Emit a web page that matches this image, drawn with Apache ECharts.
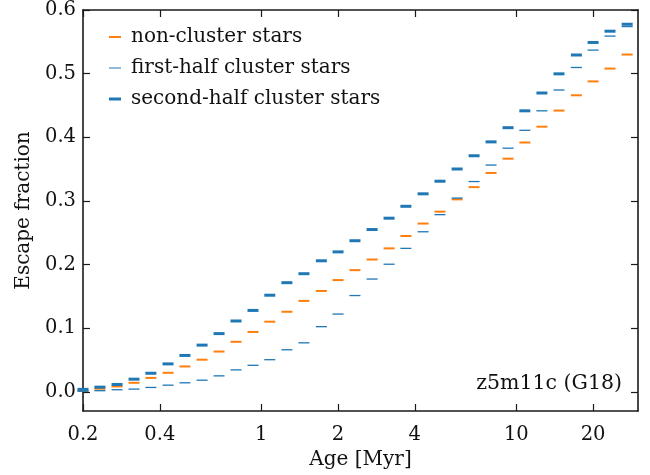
<!DOCTYPE html>
<html>
<head>
<meta charset="utf-8">
<script src="https://cdn.jsdelivr.net/npm/echarts@6/dist/echarts.min.js"></script>
<style>html,body{margin:0;padding:0;background:#fff}#c{width:650px;height:475px}</style>
</head>
<body>
<div id="c"></div>
<script>
// Bin centres (Myr), log-spaced
var ages = [0.200, 0.233, 0.272, 0.317, 0.369, 0.431, 0.502, 0.586, 0.683, 0.796, 0.928,
  1.08, 1.26, 1.47, 1.72, 2.00, 2.33, 2.72, 3.17, 3.69, 4.31, 5.02, 5.86, 6.83, 7.96, 9.28,
  10.8, 12.6, 14.7, 17.2, 20.0, 23.3, 27.2];
var nonCluster = [0.002, 0.005, 0.0086, 0.0143, 0.022, 0.030, 0.040, 0.0506, 0.0634, 0.0787, 0.0942,
  0.1103, 0.1259, 0.143, 0.1586, 0.1757, 0.1913, 0.208, 0.2255, 0.2449, 0.2645, 0.2832, 0.3025,
  0.3217, 0.344, 0.3664, 0.3918, 0.4167, 0.442, 0.466, 0.4878, 0.508, 0.530];
var firstHalf = [0.001, 0.0019, 0.0034, 0.0044, 0.007, 0.0106, 0.0143, 0.0184, 0.0252, 0.0346, 0.0418,
  0.0506, 0.0662, 0.0771, 0.1025, 0.1223, 0.1514, 0.1773, 0.2006, 0.2255, 0.2516, 0.2785, 0.3045,
  0.3305, 0.3564, 0.3829, 0.411, 0.4416, 0.4743, 0.5097, 0.537, 0.559, 0.574];
var secondHalf = [0.004, 0.0075, 0.0117, 0.020, 0.0293, 0.044, 0.0573, 0.0735, 0.0916, 0.1114, 0.128,
  0.1519, 0.1716, 0.1857, 0.206, 0.22, 0.2375, 0.2551, 0.2729, 0.2916, 0.3112, 0.331, 0.3502,
  0.371, 0.3928, 0.4151, 0.4416, 0.4696, 0.4997, 0.5293, 0.549, 0.5667, 0.5776];
var xTicks = [0.2, 0.4, 1, 2, 4, 10, 20];
var xTickLabels = ['0.2', '0.4', '1', '2', '4', '10', '20'];
var yTicks = [0, 0.1, 0.2, 0.3, 0.4, 0.5, 0.6];
var yTickLabels = ['0.0', '0.1', '0.2', '0.3', '0.4', '0.5', '0.6'];
var seriesNames = ['non-cluster stars', 'first-half cluster stars', 'second-half cluster stars'];

function pairs(ys) { return ages.map(function (a, i) { return [a, ys[i]]; }); }
function xLabel(v) {
  var best = 0, bd = Infinity;
  xTicks.forEach(function (t, i) { var d = Math.abs(Math.log(v) - Math.log(t)); if (d < bd) { bd = d; best = i; } });
  return xTickLabels[best];
}
function yLabel(v) {
  var best = 0, bd = Infinity;
  yTicks.forEach(function (t, i) { var d = Math.abs(v - t); if (d < bd) { bd = d; best = i; } });
  return yTickLabels[best];
}
var FONT = 'DejaVu Serif';
var AX = '#1a1a1a';
function legendIcon(h) {
  // 12x9 box with a centred strip of height h
  var y0 = (9 - h) / 2;
  return 'path://M0,0h0.01v0.01h-0.01z M0,' + y0 + 'h12v' + h + 'h-12z M11.99,8.99h0.01v0.01h-0.01z';
}
var chart = echarts.init(document.getElementById('c'), null, { renderer: 'canvas' });
var xBase = {
  type: 'log', logBase: 10, min: 0.2, max: 30,
  axisLine: { show: true, onZero: false, lineStyle: { color: AX, width: 1.6 } },
  axisTick: { show: true, inside: true, length: 7, lineStyle: { color: AX, width: 1.2 }, customValues: xTicks },
  minorTick: { show: false },
  splitLine: { show: false }
};
var yBase = {
  type: 'value', min: -0.03, max: 0.6,
  axisLine: { show: true, onZero: false, lineStyle: { color: AX, width: 1.6 } },
  axisTick: { show: true, inside: true, length: 7, lineStyle: { color: AX, width: 1.2 }, customValues: yTicks },
  splitLine: { show: false }
};
chart.setOption({
  animation: false,
  grid: { left: 83, right: 12, top: 8, bottom: 63 },
  xAxis: [
    Object.assign({}, xBase, {
      position: 'bottom',
      name: 'Age [Myr]', nameLocation: 'middle', nameGap: 39,
      nameTextStyle: { fontFamily: FONT, fontSize: 20, color: '#111' },
      axisLabel: { show: true, margin: 14, fontFamily: FONT, fontSize: 19.5, color: '#111', customValues: xTicks, formatter: xLabel }
    }),
    Object.assign({}, xBase, { position: 'top', axisLabel: { show: false } })
  ],
  yAxis: [
    Object.assign({}, yBase, {
      position: 'left',
      name: 'Escape fraction', nameLocation: 'middle', nameGap: 48, nameRotate: 90,
      nameTextStyle: { fontFamily: FONT, fontSize: 20, color: '#111' },
      axisLabel: { show: true, margin: 7, fontFamily: FONT, fontSize: 19.5, color: '#111', customValues: yTicks, formatter: yLabel }
    }),
    Object.assign({}, yBase, { position: 'right', axisLabel: { show: false } })
  ],
  legend: {
    orient: 'vertical', left: 104, top: 22, itemWidth: 12, itemHeight: 9, itemGap: 11,
    textStyle: { fontFamily: FONT, fontSize: 20, color: '#111', padding: [0, 0, 0, 5] },
    data: [
      { name: seriesNames[0], icon: legendIcon(2) },
      { name: seriesNames[1], icon: legendIcon(1.2) },
      { name: seriesNames[2], icon: legendIcon(3) }
    ]
  },
  graphic: [{
    type: 'text', right: 28, top: 373,
    style: { text: 'z5m11c (G18)', fontFamily: FONT, fontSize: 20.5, fill: '#111' }
  }],
  series: [
    { name: seriesNames[0], type: 'scatter', symbol: 'rect', symbolSize: [11, 2], clip: true,
      itemStyle: { color: '#ff7f0e', opacity: 1 }, data: pairs(nonCluster) },
    { name: seriesNames[1], type: 'scatter', symbol: 'rect', symbolSize: [11, 1.3], clip: true,
      itemStyle: { color: '#1f77b4', opacity: 1 }, data: pairs(firstHalf) },
    { name: seriesNames[2], type: 'scatter', symbol: 'rect', symbolSize: [11, 3], clip: true,
      itemStyle: { color: '#1f77b4', opacity: 1 }, data: pairs(secondHalf) }
  ]
});
</script>
</body>
</html>
